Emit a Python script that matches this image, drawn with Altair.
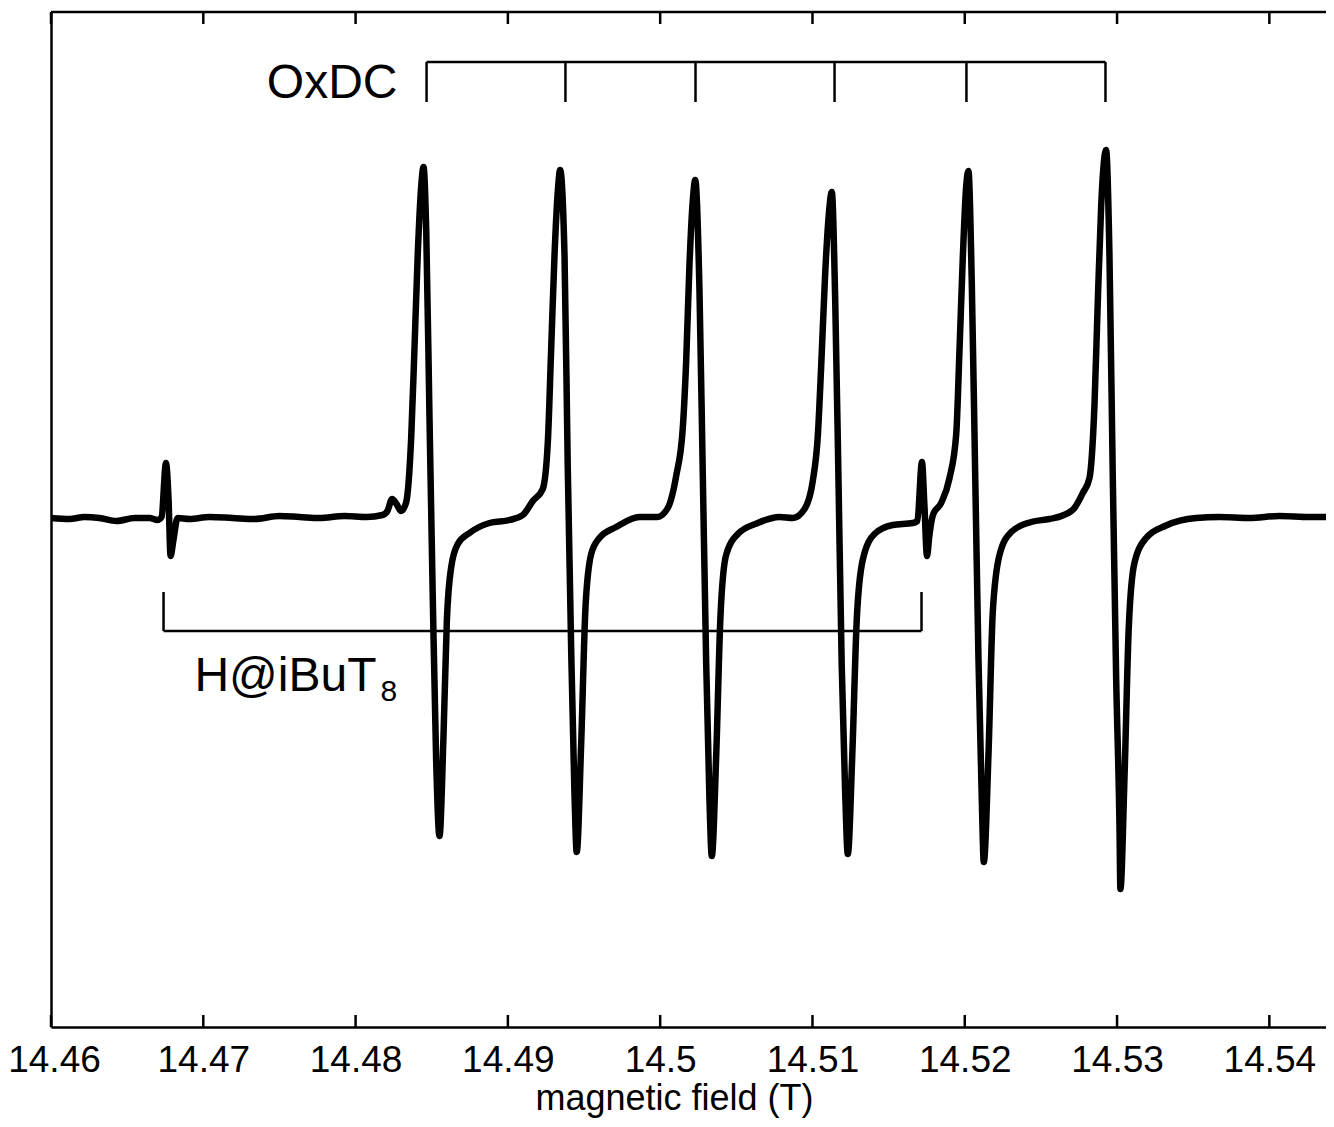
import altair as alt
import pandas as pd

# ---- spectrum (magnetic field in T, signal in arbitrary units) ----
field = [
    14.46003, 14.46121, 14.46220, 14.46318, 14.46430, 14.46548, 14.46647, 14.46699,
    14.46726, 14.46755, 14.46772, 14.46785, 14.46804, 14.46831, 14.46909, 14.47041,
    14.47192, 14.47336, 14.47500, 14.47632, 14.47763, 14.47927, 14.48072, 14.48177,
    14.48209, 14.48240, 14.48269, 14.48298, 14.48331, 14.48365, 14.48387, 14.48408,
    14.48431, 14.48446, 14.48464, 14.48485, 14.48507, 14.48529, 14.48551, 14.48577,
    14.48599, 14.48628, 14.48671, 14.48748, 14.48879, 14.49011, 14.49098, 14.49164,
    14.49229, 14.49262, 14.49284, 14.49306, 14.49328, 14.49343, 14.49372, 14.49393,
    14.49416, 14.49437, 14.49452, 14.49481, 14.49510, 14.49547, 14.49601, 14.49711,
    14.49864, 14.49982, 14.50050, 14.50105, 14.50148, 14.50171, 14.50192, 14.50214,
    14.50230, 14.50258, 14.50280, 14.50302, 14.50324, 14.50339, 14.50368, 14.50396,
    14.50433, 14.50510, 14.50641, 14.50783, 14.50871, 14.50948, 14.51002, 14.51035,
    14.51057, 14.51083, 14.51107, 14.51127, 14.51149, 14.51171, 14.51192, 14.51215,
    14.51232, 14.51261, 14.51291, 14.51330, 14.51407, 14.51527, 14.51659, 14.51689,
    14.51719, 14.51735, 14.51752, 14.51768, 14.51791, 14.51845, 14.51900, 14.51944,
    14.51965, 14.51987, 14.52009, 14.52024, 14.52046, 14.52068, 14.52090, 14.52112,
    14.52125, 14.52156, 14.52184, 14.52228, 14.52305, 14.52436, 14.52556, 14.52643,
    14.52720, 14.52775, 14.52819, 14.52852, 14.52873, 14.52896, 14.52928, 14.52950,
    14.52972, 14.52994, 14.53016, 14.53022, 14.53049, 14.53077, 14.53114, 14.53191,
    14.53322, 14.53519, 14.53672, 14.53869, 14.54066, 14.54263, 14.54421,
]
signal = [
    0.00, -0.01, 0.01, 0.00, -0.03, 0.00, 0.00, -0.02,
    0.01, 0.55, 0.18, -0.38, -0.22, 0.00, -0.01, 0.01,
    0.00, -0.01, 0.02, 0.01, 0.00, 0.02, 0.01, 0.03,
    0.07, 0.19, 0.14, 0.07, 0.15, 0.80, 1.71, 2.63,
    3.32, 3.51, 2.86, 1.03, -0.81, -2.42, -3.18, -2.19,
    -1.04, -0.49, -0.26, -0.15, -0.05, -0.02, 0.03, 0.17,
    0.29, 0.75, 1.68, 2.62, 3.27, 3.48, 2.62, 0.52,
    -1.34, -2.74, -3.34, -2.27, -0.88, -0.36, -0.20, -0.09,
    0.01, 0.01, 0.10, 0.42, 0.89, 1.58, 2.52, 3.17,
    3.38, 2.28, 0.42, -1.44, -2.84, -3.38, -2.37, -0.98,
    -0.37, -0.16, -0.05, 0.01, 0.00, 0.09, 0.37, 0.82,
    1.51, 2.43, 3.03, 3.26, 2.20, 0.37, -1.47, -2.76,
    -3.36, -2.39, -1.01, -0.42, -0.16, -0.07, -0.05, -0.03,
    0.56, 0.13, -0.38, -0.17, 0.03, 0.15, 0.40, 0.84,
    1.66, 2.60, 3.31, 3.47, 2.36, 0.48, -1.41, -2.83,
    -3.44, -2.35, -0.94, -0.37, -0.14, -0.04, -0.01, 0.025,
    0.10, 0.25, 0.40, 1.14, 2.14, 3.13, 3.68, 2.64,
    0.40, -1.59, -3.08, -3.71, -2.59, -1.09, -0.45, -0.20,
    -0.075, 0.00, 0.01, 0.00, 0.02, 0.01, 0.01,
]

# ---- axis ticks ----
tick_values = [14.46, 14.47, 14.48, 14.49, 14.50, 14.51, 14.52, 14.53, 14.54]
x_domain = [14.46, 14.54372]
y_domain = [-5.09, 5.06]

# ---- annotations ----
oxdc_lines = [14.48466, 14.49378, 14.50232, 14.51145, 14.52011, 14.52924]
oxdc_bar_level = 4.56
oxdc_tick_end = 4.16
h_lines = [14.46739, 14.51716]
h_bar_level = -1.13
h_tick_end = -0.74

label_field = [14.48275, 14.46942, 14.48164]
label_level = [4.20, -1.73, -1.83]
label_text = ["OxDC", "H@iBuT", "8"]

W, H = 1275, 1015
FONT = "Liberation Sans"

spec = pd.DataFrame({"field": field, "intensity": signal})

X = alt.X(
    "field:Q",
    scale=alt.Scale(domain=x_domain, nice=False, zero=False),
    axis=alt.Axis(
        values=tick_values, format="~g", ticks=False, grid=False,
        domain=True, domainColor="black", domainWidth=2.5,
        labelFont=FONT, labelFontSize=37, labelColor="black", labelPadding=15,
        labelFlush=False,
        labelOffset={"condition": {"test": "datum.value < 14.465", "value": 3}, "value": 0},
        title="magnetic field (T)", titleFont=FONT, titleFontSize=36,
        titleFontWeight="normal", titleColor="black",
        titleX=623, titleY=82, titleBaseline="alphabetic", titleAlign="center",
        titleAnchor="start",
    ),
)
Y = alt.Y(
    "intensity:Q",
    scale=alt.Scale(domain=y_domain, nice=False, zero=False),
    axis=alt.Axis(
        ticks=False, labels=False, grid=False, title=None,
        domain=True, domainColor="black", domainWidth=2.5,
    ),
)

line = alt.Chart(spec).mark_line(
    color="black", strokeWidth=6.5, interpolate="monotone",
    strokeJoin="round", strokeCap="round", clip=True,
).encode(x=X, y=Y)

ticks_df = pd.DataFrame({"field": tick_values})
bottom_ticks = alt.Chart(ticks_df).mark_rule(color="black", strokeWidth=2.5).encode(
    x=X, y=alt.value(H), y2=alt.value(H - 12)
)
top_ticks = alt.Chart(ticks_df).mark_rule(color="black", strokeWidth=2.5).encode(
    x=X, y=alt.value(0), y2=alt.value(12)
)
top_border = alt.Chart(ticks_df.head(1)).mark_rule(color="black", strokeWidth=2.5).encode(
    x=alt.value(0), x2=alt.value(W), y=alt.value(0)
)

oxdc_bar = alt.Chart(pd.DataFrame({
    "field": [oxdc_lines[0]], "field_end": [oxdc_lines[-1]], "intensity": [oxdc_bar_level]
})).mark_rule(color="black", strokeWidth=2.5).encode(x=X, x2="field_end:Q", y=Y)
oxdc_ticks = alt.Chart(pd.DataFrame({
    "field": oxdc_lines, "intensity": [oxdc_bar_level] * len(oxdc_lines),
    "end": [oxdc_tick_end] * len(oxdc_lines)
})).mark_rule(color="black", strokeWidth=2.5).encode(x=X, y=Y, y2="end:Q")

h_bar = alt.Chart(pd.DataFrame({
    "field": [h_lines[0]], "field_end": [h_lines[-1]], "intensity": [h_bar_level]
})).mark_rule(color="black", strokeWidth=2.5).encode(x=X, x2="field_end:Q", y=Y)
h_ticks = alt.Chart(pd.DataFrame({
    "field": h_lines, "intensity": [h_bar_level] * len(h_lines),
    "end": [h_tick_end] * len(h_lines)
})).mark_rule(color="black", strokeWidth=2.5).encode(x=X, y=Y, y2="end:Q")

labels = pd.DataFrame({"field": label_field, "intensity": label_level, "text": label_text})
oxdc_text = alt.Chart(labels.iloc[[0]]).mark_text(
    font=FONT, fontSize=48, align="right", baseline="alphabetic", color="black"
).encode(x=X, y=Y, text="text:N")
h_text = alt.Chart(labels.iloc[[1]]).mark_text(
    font=FONT, fontSize=48, align="left", baseline="alphabetic", color="black"
).encode(x=X, y=Y, text="text:N")
sub_text = alt.Chart(labels.iloc[[2]]).mark_text(
    font=FONT, fontSize=30, align="left", baseline="alphabetic", color="black"
).encode(x=X, y=Y, text="text:N")

chart = alt.layer(
    line, bottom_ticks, top_ticks, top_border,
    oxdc_bar, oxdc_ticks, h_bar, h_ticks,
    oxdc_text, h_text, sub_text,
).properties(
    width=W, height=H,
    autosize=alt.AutoSizeParams(type="none"),
    padding={"left": 43, "top": 4, "right": 0, "bottom": 92},
).configure_view(stroke=None).configure(background="white")

chart.save("out.html", embed_options={"renderer": "svg", "actions": False})
